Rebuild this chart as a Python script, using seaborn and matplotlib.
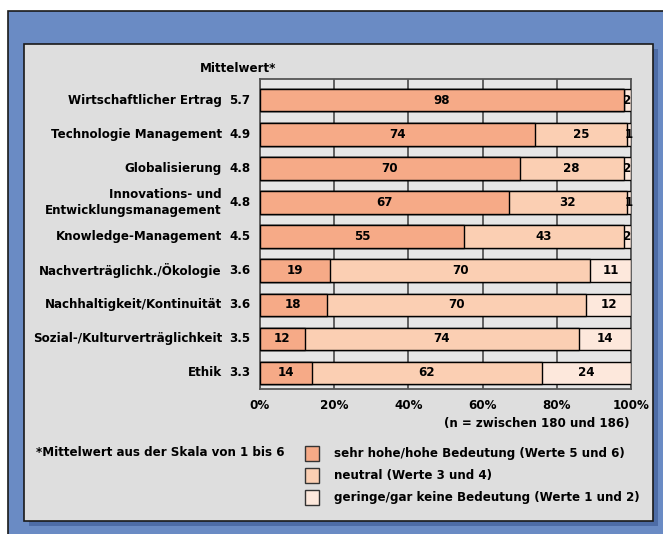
import matplotlib
matplotlib.use("Agg")
import matplotlib.pyplot as plt
from matplotlib.patches import Rectangle
import matplotlib.transforms as mtransforms
import numpy as np
import pandas as pd
import seaborn as sns

# ---- data ----
categories = [
    "Wirtschaftlicher Ertrag",
    "Technologie Management",
    "Globalisierung",
    "Innovations- und\nEntwicklungsmanagement",
    "Knowledge-Management",
    "Nachverträglichk./Ökologie",
    "Nachhaltigkeit/Kontinuität",
    "Sozial-/Kulturverträglichkeit",
    "Ethik",
]
means = ["5.7", "4.9", "4.8", "4.8", "4.5", "3.6", "3.6", "3.5", "3.3"]
high = [98, 74, 70, 67, 55, 19, 18, 12, 14]
neutral = [0, 25, 28, 32, 43, 70, 70, 74, 62]
low = [2, 1, 2, 1, 2, 11, 12, 14, 24]
xticks = [0, 20, 40, 60, 80, 100]
xticklabels = ["0%", "20%", "40%", "60%", "80%", "100%"]
legend_labels = [
    "sehr hohe/hohe Bedeutung (Werte 5 und 6)",
    "neutral (Werte 3 und 4)",
    "geringe/gar keine Bedeutung (Werte 1 und 2)",
]
colors = ["#f6aa87", "#fbcfb3", "#fde8dc"]

FS = 8.6
W, H = 663, 534
fig = plt.figure(figsize=(W / 100, H / 100), dpi=100, facecolor="white")

def px(x, y, w, h):
    # pixel box (top-left origin) -> figure fraction rectangle
    return (x / W, 1 - (y + h) / H, w / W, h / H)

# outer blue panel
x0, y0, w0, h0 = px(8, 11, 700, 600)
fig.patches.append(Rectangle((x0, y0), w0, h0, transform=fig.transFigure,
                             facecolor="#6a8bc4", edgecolor="#1a1a1a", lw=1.2, zorder=-3))
# shadow
x0, y0, w0, h0 = px(29, 49, 629, 477)
fig.patches.append(Rectangle((x0, y0), w0, h0, transform=fig.transFigure,
                             facecolor="#4d6ca6", edgecolor="none", zorder=-2))
# gray inner panel
x0, y0, w0, h0 = px(24, 44, 629, 477)
fig.patches.append(Rectangle((x0, y0), w0, h0, transform=fig.transFigure,
                             facecolor="#dedede", edgecolor="#1a1a1a", lw=1.2, zorder=-1))

# axes
ax = fig.add_axes(px(260, 79, 371, 310))
ax.set_zorder(5)
ax.set_facecolor("#e6e6e6")

df = pd.DataFrame({"cat": categories, "high": high, "neutral": neutral, "low": low})
df["c2"] = df["high"] + df["neutral"]
df["c3"] = df["c2"] + df["low"]

for col, color in [("c3", colors[2]), ("c2", colors[1]), ("high", colors[0])]:
    sns.barplot(data=df, x=col, y="cat", orient="h", color=color, edgecolor="black",
                linewidth=1.0, width=0.66, ax=ax, saturation=1, zorder=3)

ax.set_xlim(0, 100)
ax.set_ylim(8.47, -0.62)
ax.set_xlabel("")
ax.set_ylabel("")
ax.set_xticks(xticks)
ax.set_xticklabels(xticklabels, fontsize=FS, fontweight="bold")
ax.tick_params(axis="x", length=0, pad=7.5)
ax.tick_params(axis="y", length=0, pad=27.4)
ax.set_yticks(range(len(categories)))
ax.set_yticklabels(categories, fontsize=FS, fontweight="bold", ha="right",
                   va="center", linespacing=1.3)
ax.xaxis.grid(True, color="#555555", lw=1.3, zorder=0)
ax.set_axisbelow(True)
for s in ax.spines.values():
    s.set_color("#555555")
    s.set_linewidth(1.3)

# values inside bars
for i in range(len(categories)):
    segs = [(0, high[i]), (high[i], neutral[i]), (high[i] + neutral[i], low[i])]
    for left, w in segs:
        if w > 0:
            ax.text(left + w / 2, i, str(w), ha="center", va="center",
                    fontsize=FS, fontweight="bold", color="black", zorder=5)

# mean values
trans = mtransforms.blended_transform_factory(fig.transFigure, ax.transData)
for i, m in enumerate(means):
    ax.text(229 / W, i, m, transform=trans, ha="left", va="center",
            fontsize=FS, fontweight="bold", color="black", clip_on=False)

fig.text(238 / W, 1 - 68 / H, "Mittelwert*", ha="center", va="center",
         fontsize=FS, fontweight="bold", zorder=5)
fig.text(630 / W, 1 - 423 / H, "(n = zwischen 180 und 186)", ha="right", va="center",
         fontsize=FS, fontweight="bold", zorder=5)

# legend
fig.text(36 / W, 1 - 453 / H, "*Mittelwert aus der Skala von 1 bis 6", ha="left",
         va="center", fontsize=FS, fontweight="bold", zorder=5)
for j, (lab, c) in enumerate(zip(legend_labels, colors)):
    yc = 453 + j * 22
    x0, y0, w0, h0 = px(305, yc - 7.5, 14, 15)
    fig.patches.append(Rectangle((x0, y0), w0, h0, transform=fig.transFigure,
                                 facecolor=c, edgecolor="#333333", lw=1.0, zorder=5))
    fig.text(334 / W, 1 - yc / H, lab, ha="left", va="center", fontsize=FS,
             fontweight="bold", zorder=5)

fig.savefig("out.png", dpi=100, facecolor="white")
